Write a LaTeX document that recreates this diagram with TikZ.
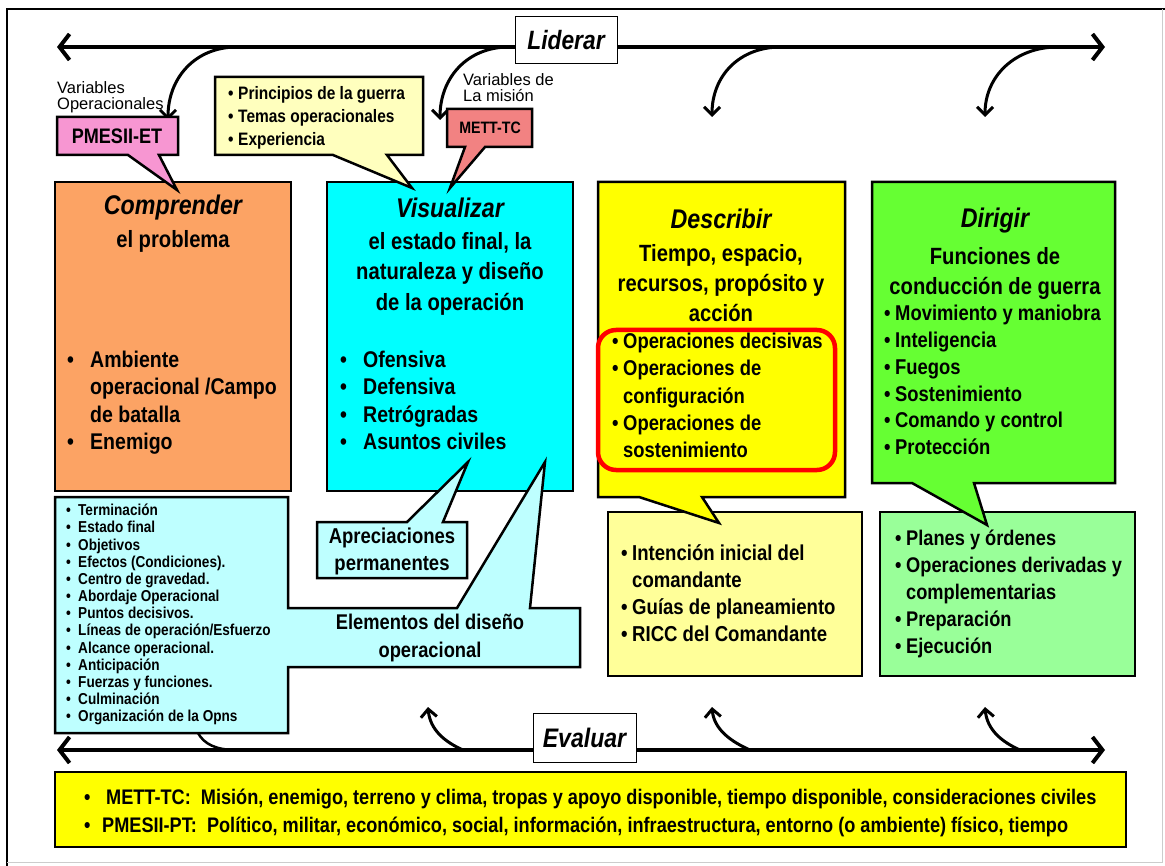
\documentclass[tikz,border=0pt]{standalone}
\usepackage{fontspec}
\setmainfont{Liberation Sans}[FakeStretch=0.86]
\newfontfamily\lblfont{Liberation Sans}
\usetikzlibrary{arrows.meta}
\definecolor{corange}{RGB}{252,163,100}
\definecolor{ccyan}{RGB}{0,255,255}
\definecolor{cyel}{RGB}{255,255,0}
\definecolor{cgreen}{RGB}{102,255,51}
\definecolor{lyel}{RGB}{255,255,153}
\definecolor{lgreen}{RGB}{153,255,153}
\definecolor{lcyan}{RGB}{190,255,255}
\definecolor{pyel}{RGB}{255,255,190}
\definecolor{cpink}{RGB}{247,150,210}
\definecolor{csalmon}{RGB}{242,130,130}
\newcommand\bul[1]{\makebox[#1][l]{•}}
\newcommand\ind[1]{\hspace*{#1}}
\newcommand\fs[2]{\fontsize{#1}{#2}\selectfont}
\begin{document}
\begin{tikzpicture}[x=1pt,y=-1pt,
  box/.style={draw=black,line width=2.5pt,line join=miter},
  mainline/.style={line width=4pt,line cap=round},
  curvearrow/.style={line width=3pt,-{Straight Barb[length=8pt,width=16pt,line width=3pt]}},
  txt/.style={inner sep=0pt,align=left,font=\bfseries},
  ctxt/.style={inner sep=0pt,align=center,font=\bfseries}]
\useasboundingbox (0,0) rectangle (1165,866);
% frame
\draw[line width=2.5pt] (7,866) -- (7,9) -- (1165,9);
\draw[gray!40,line width=1pt] (1162,9) -- (1162,862) -- (7,862);

% top arrow
\coordinate (tl) at (57,47);
\coordinate (tr) at (1105,47);
\draw[mainline,{Straight Barb[length=10pt,width=26pt,line width=4pt]}-{Straight Barb[length=10pt,width=26pt,line width=4pt]}] (tl) -- (tr);
\node[draw,line width=1pt,fill=white,minimum width=102pt,minimum height=47pt,inner sep=0pt,font=\fs{26.5}{26}\bfseries\itshape] (lid) at (566,40.5) {Liderar};
\coordinate (a1s) at (237,47); \coordinate (a1e) at (168,120);
\coordinate (a2s) at (509,47); \coordinate (a2e) at (440,120);
\coordinate (a3s) at (781,47); \coordinate (a3e) at (712,117);
\coordinate (a4s) at (1058,47); \coordinate (a4e) at (985,117);
\draw[curvearrow] (a1s) .. controls (195,47) and (168,78) .. (a1e);
\draw[curvearrow] (a2s) .. controls (467,47) and (440,78) .. (a2e);
\draw[curvearrow] (a3s) .. controls (739,47) and (712,76) .. (a3e);
\draw[curvearrow] (a4s) .. controls (1015,47) and (985,76) .. (a4e);

% labels
\node[txt,anchor=north west,font=\fs{16.5}{16}\lblfont] (vop) at (57,81) {Variables\\Operacionales};
\node[txt,anchor=north west,font=\fs{16.5}{16}\lblfont] (vmi) at (463,73) {Variables de\\La misión};

% bottom arrow
\coordinate (bl) at (57,750);
\coordinate (br) at (1105,750);
\draw[mainline,{Straight Barb[length=10pt,width=26pt,line width=4pt]}-{Straight Barb[length=10pt,width=26pt,line width=4pt]}] (bl) -- (br);
\coordinate (u1s) at (463,750); \coordinate (u1e) at (428,707);
\coordinate (u2s) at (750,750); \coordinate (u2e) at (712,707);
\coordinate (u3s) at (1020,750); \coordinate (u3e) at (985,707);
\draw[curvearrow] (u1s) .. controls (445,742) and (430,730) .. (u1e);
\draw[curvearrow] (u2s) .. controls (732,742) and (714,730) .. (u2e);
\draw[curvearrow] (u3s) .. controls (1002,742) and (987,730) .. (u3e);
\coordinate (t1s) at (198,733); \coordinate (t1e) at (236,750);
\draw[line width=2.5pt] (t1s) .. controls (204,744) and (216,750) .. (t1e);
\node[draw,line width=1pt,fill=white,minimum width=103pt,minimum height=49pt,inner sep=0pt,font=\fs{26.8}{26}\bfseries\itshape] (eva) at (584.5,737.5) {Evaluar};

% main boxes
\draw[box,fill=corange] (55,182) rectangle (291,491);
\coordinate (comp) at (173,182);
\draw[box,fill=ccyan] (327,182) rectangle (573,491);
\coordinate (visu) at (450,182);

% lower boxes
\draw[box,fill=lyel] (608,512) rectangle (862,676);
\draw[box,fill=lgreen] (880,512) rectangle (1135,676);

% Describir callout
\coordinate (dtip) at (719,523);
\draw[box,fill=cyel] (598,182) -- (845,182) -- (845,497) -- (702,497) -- (dtip) -- (639,497) -- (598,497) -- cycle;
% Dirigir callout
\coordinate (gtip) at (987,525);
\draw[box,fill=cgreen] (872,182) -- (1115,182) -- (1115,483) -- (974,483) -- (gtip) -- (912,483) -- (872,483) -- cycle;
\draw[red,line width=4.5pt,rounded corners=18pt] (598,330) rectangle (835,470);

% left list callout
\coordinate (etip) at (545,462);
\draw[box,fill=lcyan] (55,497) -- (288,497) -- (288,608) -- (457,608) -- (etip) -- (530,608) -- (580,608) -- (580,667) -- (288,667) -- (288,733) -- (55,733) -- cycle;
% Apreciaciones
\coordinate (atip) at (468,462);
\draw[box,fill=lcyan] (317,522) -- (407,522) -- (atip) -- (443,522) -- (467,522) -- (467,578) -- (317,578) -- cycle;

% top callouts
\coordinate (ptip) at (177,190);
\draw[box,fill=cpink] (57,117) -- (178,117) -- (178,155) -- (159,155) -- (ptip) -- (128,155) -- (57,155) -- cycle;
\coordinate (ytip) at (412,188);
\draw[box,fill=pyel] (215,77) -- (423,77) -- (423,155) -- (387,155) -- (ytip) -- (333,155) -- (215,155) -- cycle;
\coordinate (mtip) at (450,188);
\draw[box,fill=csalmon] (447,109) -- (532,109) -- (532,147) -- (485,147) -- (mtip) -- (465,147) -- (447,147) -- cycle;

% texts top callouts
\node[ctxt,font=\fs{21}{22}\bfseries] (pmt) at (117,136) {PMESII-ET};
\node[ctxt,font=\fs{16.5}{18}\bfseries] (mtt) at (490,128) {METT-TC};
\node[txt,anchor=north west,font=\fs{18}{23}\bfseries] (prin) at (228,86) {\bul{10pt}Principios de la guerra\\\bul{10pt}Temas operacionales\\\bul{10pt}Experiencia};

% Comprender texts
\node[ctxt,font=\fs{27}{27}\bfseries\itshape] (comph) at (173,208) {Comprender};
\node[ctxt,font=\fs{23.5}{23}\bfseries] (comps) at (173,241) {el problema};
\node[txt,anchor=north west,font=\fs{22.7}{27.3}\bfseries] (compb) at (67,351) {\bul{23pt}Ambiente\\\ind{23pt}operacional /Campo\\\ind{23pt}de batalla\\\bul{23pt}Enemigo};

% Visualizar texts
\node[ctxt,font=\fs{27}{27}\bfseries\itshape] (visuh) at (450,208) {Visualizar};
\node[ctxt,anchor=north,font=\fs{23.5}{30.5}\bfseries] (visus) at (450,232) {el estado final, la\\naturaleza y diseño\\de la operación};
\node[txt,anchor=north west,font=\fs{22.7}{27.3}\bfseries] (visub) at (340,351) {\bul{23pt}Ofensiva\\\bul{23pt}Defensiva\\\bul{23pt}Retrógradas\\\bul{23pt}Asuntos civiles};

% Describir texts
\node[ctxt,font=\fs{27}{27}\bfseries\itshape] (desh) at (721,219) {Describir};
\node[ctxt,anchor=north,font=\fs{23.5}{30}\bfseries] (dess) at (721,244) {Tiempo, espacio,\\recursos, propósito y\\acción};
\node[txt,anchor=north west,font=\fs{21.4}{27.2}\bfseries] (desb) at (612,333) {\bul{11pt}Operaciones decisivas\\\bul{11pt}Operaciones de\\\ind{11pt}configuración\\\bul{11pt}Operaciones de\\\ind{11pt}sostenimiento};

% Dirigir texts
\node[ctxt,font=\fs{27}{27}\bfseries\itshape] (dirh) at (995,221) {Dirigir};
\node[ctxt,anchor=north,font=\fs{23.5}{30}\bfseries] (dirs) at (995,247) {Funciones de\\conducción de guerra};
\node[txt,anchor=north west,font=\fs{21.4}{26.8}\bfseries] (dirb) at (884,305) {\bul{11pt}Movimiento y maniobra\\\bul{11pt}Inteligencia\\\bul{11pt}Fuegos\\\bul{11pt}Sostenimiento\\\bul{11pt}Comando y control\\\bul{11pt}Protección};

% lower texts
\node[txt,anchor=north west,font=\fs{21.6}{27}\bfseries] (desl) at (621,544) {\bul{11pt}Intención inicial del\\\ind{11pt}comandante\\\bul{11pt}Guías de planeamiento\\\bul{11pt}RICC del Comandante};
\node[txt,anchor=north west,font=\fs{21.2}{27}\bfseries] (dirl) at (895,530) {\bul{11pt}Planes y órdenes\\\bul{11pt}Operaciones derivadas y\\\ind{11pt}complementarias\\\bul{11pt}Preparación\\\bul{11pt}Ejecución};

% left list
\node[txt,anchor=north west,font=\fs{15.8}{17.17}\bfseries] (lst) at (66,504) {\bul{12pt}Terminación\\\bul{12pt}Estado final\\\bul{12pt}Objetivos\\\bul{12pt}Efectos (Condiciones).\\\bul{12pt}Centro de gravedad.\\\bul{12pt}Abordaje Operacional\\\bul{12pt}Puntos decisivos.\\\bul{12pt}Líneas de operación/Esfuerzo\\\bul{12pt}Alcance operacional.\\\bul{12pt}Anticipación\\\bul{12pt}Fuerzas y funciones.\\\bul{12pt}Culminación\\\bul{12pt}Organización de la Opns};

\node[ctxt,anchor=north,font=\fs{21.5}{27}\bfseries] (apr) at (392,528) {Apreciaciones\\permanentes};
\node[ctxt,anchor=north,font=\fs{21.3}{28}\bfseries] (ele) at (430,614) {Elementos del diseño\\operacional};

% bottom box
\draw[box,fill=cyel] (55,772) rectangle (1126,847);
\node[txt,anchor=north west,font=\fs{21.1}{28}\bfseries] (bot) at (84,789) {\bul{22pt}METT-TC:\ \ Misión, enemigo, terreno y clima, tropas y apoyo disponible, tiempo disponible, consideraciones civiles\\\bul{18pt}PMESII-PT:\ \ Político, militar, económico, social, información, infraestructura, entorno (o ambiente) físico, tiempo};
\end{tikzpicture}
\end{document}
